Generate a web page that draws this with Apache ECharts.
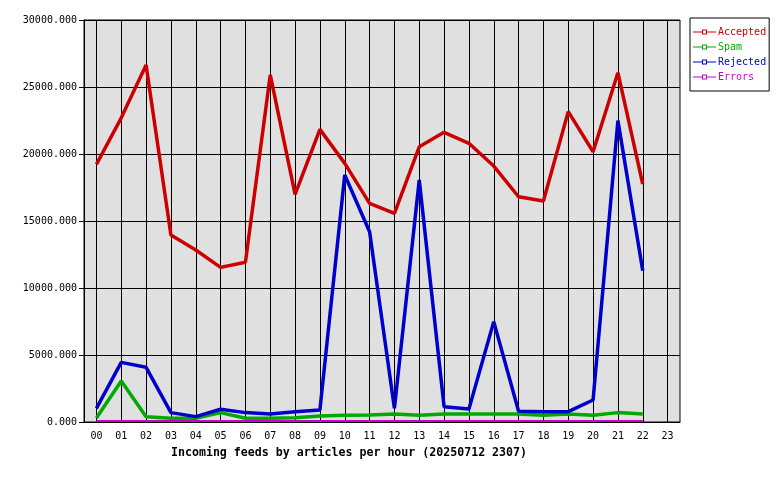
<!DOCTYPE html>
<html>
<head>
<meta charset="utf-8">
<script src="https://cdn.jsdelivr.net/npm/echarts@6/dist/echarts.min.js"></script>
<style>html,body{margin:0;padding:0;background:#fff}#c{width:780px;height:480px}</style>
</head>
<body>
<div id="c"></div>
<script>
const hours = ['00','01','02','03','04','05','06','07','08','09','10','11','12','13','14','15','16','17','18','19','20','21','22','23'];
const accepted = [19230, 22700, 26640, 13950, 12840, 11540, 11920, 25900, 16990, 21840, 19300, 16320, 15570, 20540, 21620, 20800, 19100, 16810, 16490, 23160, 20170, 26070, 17760];
const spam     = [300, 3060, 400, 280, 280, 700, 280, 280, 320, 450, 500, 520, 600, 500, 600, 600, 600, 600, 500, 600, 500, 700, 600];
const rejected = [1020, 4450, 4080, 700, 400, 950, 700, 600, 770, 900, 18430, 14200, 1020, 18060, 1140, 970, 7490, 800, 770, 770, 1640, 22490, 11290];
const errors   = [80, 80, 80, 80, 80, 80, 80, 80, 80, 80, 80, 80, 80, 80, 80, 80, 80, 80, 80, 80, 80, 80, 80];
const yTicks = [0, 5000, 10000, 15000, 20000, 25000, 30000];
const titleText = 'Incoming feeds by articles per hour (20250712 2307)';

const mono = 'DejaVu Sans Mono';
const colors = {Accepted:'#cc0000', Spam:'#00aa00', Rejected:'#0000cc', Errors:'#cc00cc'};
const legendIcon = 'path://M0,2H9V0H14V2H23V3H14V5H9V3H0Z M10,1V4H13V1Z';
function mk(name, data, w) {
  return {
    name, type:'line', data, symbol:'none',
    lineStyle:{color:colors[name], width:w}, itemStyle:{color:colors[name]},
    animation:false, z: 3
  };
}
const chart = echarts.init(document.getElementById('c'), null, {renderer:'canvas'});
chart.setOption({
  backgroundColor:'#ffffff',
  animation:false,
  title:{text:titleText, left:344, textAlign:'center', top:442,
    textStyle:{fontFamily:mono, fontWeight:'bold', fontSize:11.6, color:'#000'}},
  legend:{
    orient:'vertical', left:690, top:18,
    padding:[9,3,9,3], itemGap:5, itemWidth:23, itemHeight:5,
    icon: legendIcon,
    itemStyle:{borderWidth:0},
    backgroundColor:'#fff', borderColor:'#000', borderWidth:1, borderRadius:0,
    textStyle:{fontFamily:mono, fontSize:10, lineHeight:10, padding:[0,0,0,-3]},
    data:['Accepted','Spam','Rejected','Errors'].map(n=>({name:n, textStyle:{color:colors[n]}}))
  },
  grid:{left:84, right:100, top:20, bottom:58, show:true, backgroundColor:'#e0e0e0', borderColor:'#000', borderWidth:1},
  xAxis:{
    type:'category', data:hours, boundaryGap:true,
    axisLine:{lineStyle:{color:'#000', width:1}},
    axisTick:{alignWithLabel:true, length:5, lineStyle:{color:'#000'}},
    axisLabel:{fontFamily:mono, fontSize:10, color:'#000', margin:9, interval:0},
    splitLine:{show:true, alignWithLabel:true, interval:0, lineStyle:{color:'#000', width:1}}
  },
  yAxis:{
    type:'value', min:yTicks[0], max:yTicks[yTicks.length-1], interval:5000,
    axisLine:{show:true, lineStyle:{color:'#000'}},
    axisTick:{show:true, length:5, lineStyle:{color:'#000'}},
    axisLabel:{fontFamily:mono, fontSize:10, color:'#000', margin:7, formatter:v=>v.toFixed(3)},
    splitLine:{show:true, lineStyle:{color:'#000', width:1}}
  },
  series:[mk('Accepted', accepted, 3.5), mk('Spam', spam, 3.5), mk('Rejected', rejected, 3.5), mk('Errors', errors, 2)]
});
</script>
</body>
</html>
